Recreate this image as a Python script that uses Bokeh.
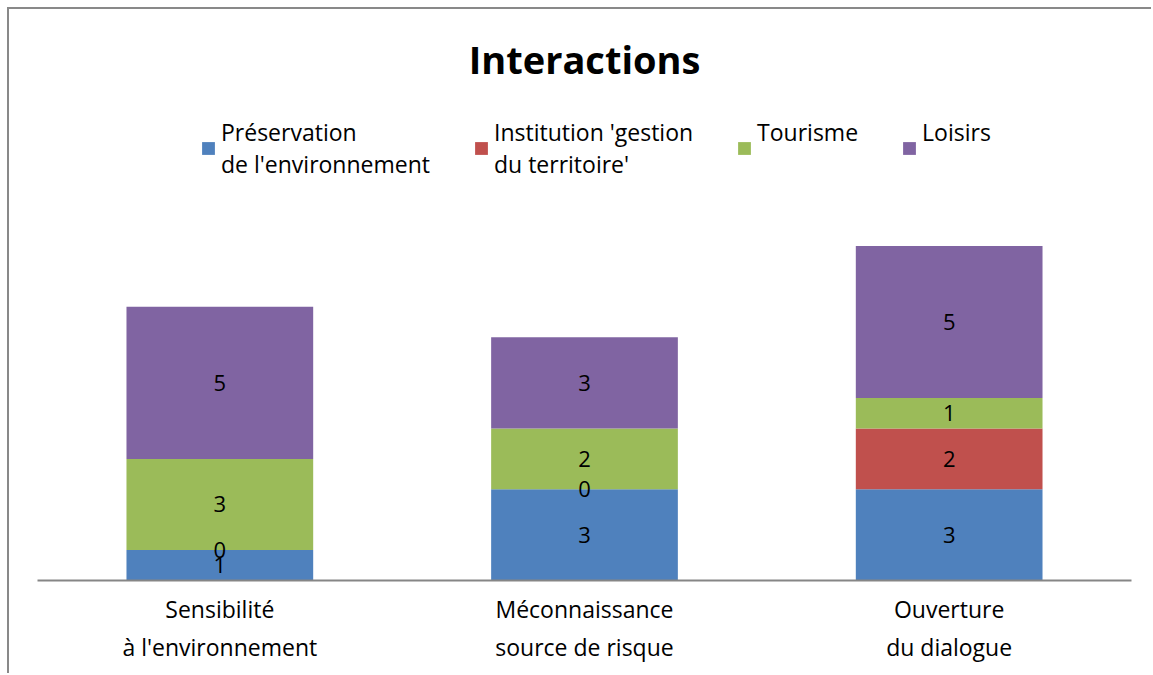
from bokeh.plotting import figure
from bokeh.models import ColumnDataSource, Legend, LegendItem, FactorRange, Range1d
from bokeh.embed import file_html
from bokeh.resources import INLINE
from bokeh.core.properties import value

categories = ["Sensibilité\nà l'environnement", "Méconnaissance\nsource de risque", "Ouverture\ndu dialogue"]
series_names = ["Préservation\nde l'environnement", "Institution 'gestion\ndu territoire'", "Tourisme\n ", "Loisirs\n "]
preservation = [1, 3, 3]
institution = [0, 0, 2]
tourisme = [3, 2, 1]
loisirs = [5, 3, 5]
colors = ["#4F81BD", "#C0504D", "#9BBB59", "#8064A2"]

FONT = "Open Sans"
keys = ["preservation", "institution", "tourisme", "loisirs"]
data = dict(x=categories, preservation=preservation, institution=institution,
            tourisme=tourisme, loisirs=loisirs)
source = ColumnDataSource(data)

W, H = 1144, 666
p = figure(width=W, height=H, x_range=FactorRange(*categories), y_range=Range1d(0, 15.82),
           output_backend="svg", toolbar_location=None,
           min_border_left=28, min_border_right=22, min_border_top=90, min_border_bottom=95)
p.styles = {"margin-left": "7px", "margin-top": "7px",
            "border-left": "2px solid #898989", "border-top": "2px solid #898989"}
p.title.text = "Interactions"
p.title.align = "center"
p.title.text_font = FONT
p.title.text_font_size = "38px"
p.title.text_font_style = "bold"
p.title.text_color = "black"
p.title.standoff = 30

renderers = p.vbar_stack(keys, x="x", width=0.512, color=colors, source=source, line_color=None)

# value labels
lx, ly, lt = [], [], []
series_vals = [preservation, institution, tourisme, loisirs]
bottoms = [0] * len(categories)
for vals in series_vals:
    for i, c in enumerate(categories):
        lx.append(c)
        ly.append(bottoms[i] + vals[i] / 2)
        lt.append(str(vals[i]))
    bottoms = [b + v for b, v in zip(bottoms, vals)]
lab_src = ColumnDataSource(dict(x=lx, y=ly, t=lt))
p.text(x="x", y="y", text="t", source=lab_src, text_align="center", text_baseline="middle",
       text_font=value(FONT), text_font_size="22px", text_color="black")

legend = Legend(items=[LegendItem(label=n, renderers=[r]) for n, r in zip(series_names, renderers)],
                orientation="horizontal", location=(163, 400),
                label_text_font=FONT, label_text_font_size="23px", label_text_color="black",
                label_text_line_height=1.3,
                glyph_width=16, glyph_height=16, spacing=43, label_standoff=5,
                padding=0, margin=0, border_line_color=None, background_fill_alpha=0)
p.add_layout(legend)

p.yaxis.visible = False
p.xgrid.visible = False
p.ygrid.visible = False
p.outline_line_color = None
p.xaxis.axis_line_color = "#868686"
p.xaxis.axis_line_width = 2
p.xaxis.major_tick_line_color = None
p.xaxis.minor_tick_line_color = None
p.xaxis.major_label_text_font = FONT
p.xaxis.major_label_text_font_size = "23px"
p.xaxis.major_label_text_color = "black"
p.xaxis.major_label_standoff = 6

open("out.html", "w").write(file_html(p, INLINE))
